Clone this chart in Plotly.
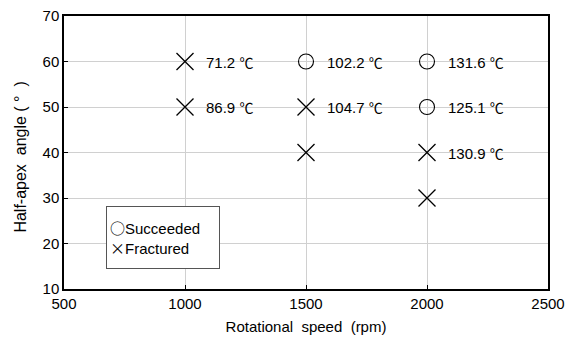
import plotly.graph_objects as go

# Data
succ_speed = [1500, 2000, 2000]
succ_angle = [60, 60, 50]
succ_temp = ["102.2", "131.6", "125.1"]

frac_speed = [1000, 1000, 1500, 1500, 2000, 2000]
frac_angle = [60, 50, 50, 40, 40, 30]
frac_temp = ["71.2", "86.9", "104.7", "", "130.9", ""]

x_ticks = [500, 1000, 1500, 2000, 2500]
y_ticks = [10, 20, 30, 40, 50, 60, 70]

FONT = "Arial"
CJK = "Noto Sans CJK JP"

fig = go.Figure()
fig.add_trace(go.Scatter(
    x=succ_speed, y=succ_angle, mode="markers",
    marker=dict(symbol="circle-open", size=15, color="black", line=dict(width=1.1)),
    showlegend=False, cliponaxis=False))
fig.add_trace(go.Scatter(
    x=frac_speed, y=frac_angle, mode="markers",
    marker=dict(symbol="x-thin-open", size=17, color="black", line=dict(width=1.3)),
    showlegend=False, cliponaxis=False))

for xs, ys, ts in [(succ_speed, succ_angle, succ_temp), (frac_speed, frac_angle, frac_temp)]:
    for x, y, t in zip(xs, ys, ts):
        if t:
            fig.add_annotation(x=x, y=y,
                               text=f"{t} <span style='font-family:{CJK};font-size:14px'>℃</span>",
                               showarrow=False, xanchor="left",
                               xshift=19, font=dict(family=FONT, size=15, color="black"))

fig.add_annotation(xref="paper", yref="paper", x=0.0868, y=0.304, xanchor="left", yanchor="top",
                   text=(f"<span style='font-family:{CJK}'>○</span>Succeeded<br>"
                         f"<span style='font-family:{CJK}'>×</span>Fractured"),
                   showarrow=False, align="left", valign="middle", width=106, height=55,
                   bordercolor="#555", borderwidth=1, borderpad=3, bgcolor="white",
                   font=dict(family=FONT, size=15, color="black"))

axis_common = dict(showline=True, linecolor="black", linewidth=1.5, mirror=True,
                   showgrid=True, gridcolor="#d0d0d0", gridwidth=1, zeroline=False,
                   ticks="inside", ticklen=4, tickcolor="black", automargin=False,
                   tickfont=dict(family=FONT, size=15, color="black"))

fig.update_xaxes(range=[500, 2500], tickvals=x_ticks, **axis_common,
                 title=dict(text="Rotational  speed  (rpm)", font=dict(family=FONT, size=15, color="black"),
                            standoff=11))
fig.update_yaxes(range=[10, 70], tickvals=y_ticks, **axis_common,
                 title=dict(text="Half-apex  angle (&nbsp;°&nbsp;&nbsp;)&nbsp;&nbsp;",
                            font=dict(family=FONT, size=16, color="black"),
                            standoff=12))

fig.update_layout(width=568, height=341, margin=dict(l=64, r=20, t=16, b=52),
                  plot_bgcolor="white", paper_bgcolor="white")

fig.write_html("out.html")
